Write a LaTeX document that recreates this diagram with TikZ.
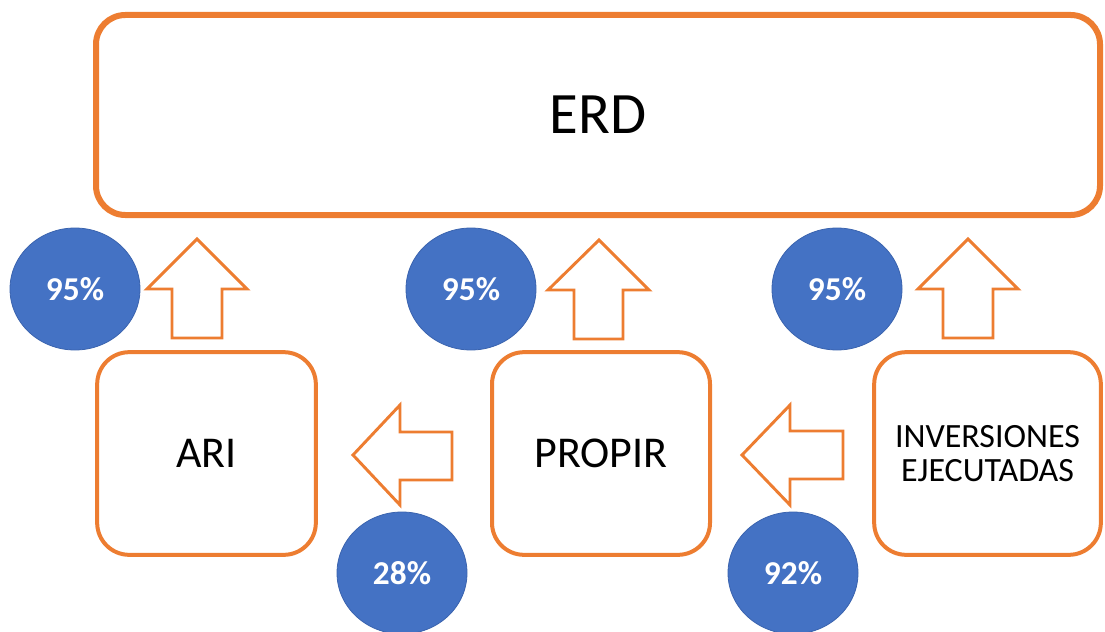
\documentclass[tikz,border=0pt]{standalone}
\usepackage{fontspec}
\setmainfont{Carlito}
\usetikzlibrary{shapes.geometric}
\definecolor{orng}{HTML}{ED7D31}
\definecolor{blu}{HTML}{4472C4}
\definecolor{bluedge}{HTML}{3A63AE}
\tikzset{
  bigbox/.style={draw=orng, line width=4.5pt, rounded corners=22pt, fill=white, inner sep=0pt},
  smallbox/.style={draw=orng, line width=3pt, rounded corners=24pt, fill=white, inner sep=0pt,
    minimum height=152pt, align=center},
  pct/.style={ellipse, fill=blu, draw=bluedge, line width=0.6pt, minimum width=97.5pt,
    minimum height=91.5pt, inner sep=0pt, text=white, font=\bfseries\fontsize{25}{29}\selectfont},
  blockarrow/.style={draw=orng, line width=2.2pt, fill=white, line join=miter}
}
\begin{document}
\begin{tikzpicture}[x=0.75pt, y=-0.75pt]
\useasboundingbox (0,0) rectangle (1105,631);
% ERD box
\node[bigbox, minimum width=753pt, minimum height=150pt, font=\fontsize{44}{52}\selectfont] (erd) at (598,115) {ERD};
% bottom boxes
\node[smallbox, minimum width=164pt, font=\fontsize{33}{39}\selectfont] (ari) at (206.5,453.5) {ARI};
\node[smallbox, minimum width=163.5pt, font=\fontsize{33}{39}\selectfont] (propir) at (601,453.5) {PROPIR};
\node[smallbox, minimum width=170pt, font=\fontsize{25.5}{26}\selectfont] (inv) at (987.5,453.5) {INVERSIONES\\EJECUTADAS};
% up arrows
\draw[blockarrow] (197,239) -- (247,289) -- (222,289) -- (222,338) -- (172,338) -- (172,289) -- (147,289) -- cycle;
\draw[blockarrow] (599,240) -- (649,290) -- (623,290) -- (623,339) -- (574,339) -- (574,290) -- (548,290) -- cycle;
\draw[blockarrow] (968,239) -- (1018,289) -- (993,289) -- (993,338) -- (943,338) -- (943,289) -- (918,289) -- cycle;
% left arrows
\draw[blockarrow] (353,455) -- (400,405) -- (400,432) -- (452,432) -- (452,480) -- (400,480) -- (400,505) -- cycle;
\draw[blockarrow] (742,455) -- (790,405) -- (790,431) -- (843,431) -- (843,479) -- (790,479) -- (790,505) -- cycle;
% percentage circles
\node[pct] (p1) at (75,289) {95\%};
\node[pct] (p2) at (471,289) {95\%};
\node[pct] (p3) at (837,289) {95\%};
\node[pct] (p4) at (402,573) {28\%};
\node[pct] (p5) at (793,573) {92\%};
\end{tikzpicture}
\end{document}
